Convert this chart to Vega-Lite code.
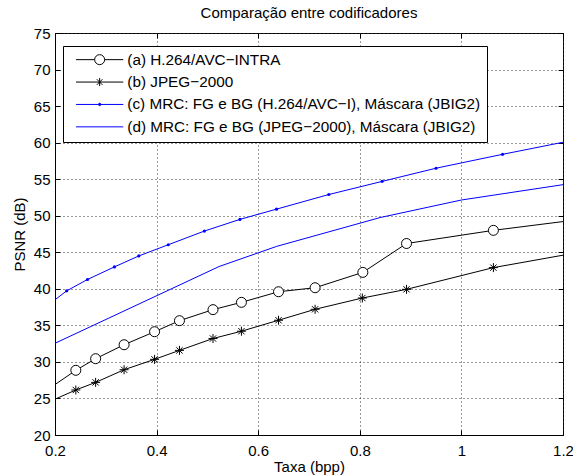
{
  "$schema": "https://vega.github.io/schema/vega-lite/v6.json",
  "width": 508,
  "height": 402,
  "autosize": "none",
  "padding": {"left": 55, "top": 33, "right": 10, "bottom": 40},
  "background": "white",
  "title": {"text": "Comparação entre codificadores", "font": "Liberation Sans", "fontSize": 15, "fontWeight": "normal", "color": "black", "offset": 5},
  "config": {
    "view": {"stroke": "black", "strokeWidth": 1},
    "axis": {"labelFont": "Liberation Sans", "titleFont": "Liberation Sans", "labelColor": "black", "titleColor": "black", "titleFontWeight": "normal", "domainColor": "black", "tickColor": "black", "labelOverlap": false, "labelFlush": false}
  },
  "data": {"values": [
    {"serie": "(a) H.264/AVC−INTRA", "x": 0.2, "y": 26.9},
    {"serie": "(a) H.264/AVC−INTRA", "x": 0.241, "y": 28.85},
    {"serie": "(a) H.264/AVC−INTRA", "x": 0.28, "y": 30.44},
    {"serie": "(a) H.264/AVC−INTRA", "x": 0.336, "y": 32.35},
    {"serie": "(a) H.264/AVC−INTRA", "x": 0.396, "y": 34.13},
    {"serie": "(a) H.264/AVC−INTRA", "x": 0.445, "y": 35.64},
    {"serie": "(a) H.264/AVC−INTRA", "x": 0.511, "y": 37.15},
    {"serie": "(a) H.264/AVC−INTRA", "x": 0.567, "y": 38.15},
    {"serie": "(a) H.264/AVC−INTRA", "x": 0.64, "y": 39.6},
    {"serie": "(a) H.264/AVC−INTRA", "x": 0.712, "y": 40.15},
    {"serie": "(a) H.264/AVC−INTRA", "x": 0.806, "y": 42.25},
    {"serie": "(a) H.264/AVC−INTRA", "x": 0.892, "y": 46.2},
    {"serie": "(a) H.264/AVC−INTRA", "x": 1.063, "y": 48.0},
    {"serie": "(a) H.264/AVC−INTRA", "x": 1.2, "y": 49.2},
    {"serie": "(b) JPEG−2000", "x": 0.2, "y": 24.9},
    {"serie": "(b) JPEG−2000", "x": 0.241, "y": 26.16},
    {"serie": "(b) JPEG−2000", "x": 0.28, "y": 27.2},
    {"serie": "(b) JPEG−2000", "x": 0.336, "y": 28.93},
    {"serie": "(b) JPEG−2000", "x": 0.396, "y": 30.35},
    {"serie": "(b) JPEG−2000", "x": 0.445, "y": 31.58},
    {"serie": "(b) JPEG−2000", "x": 0.511, "y": 33.2},
    {"serie": "(b) JPEG−2000", "x": 0.567, "y": 34.2},
    {"serie": "(b) JPEG−2000", "x": 0.64, "y": 35.7},
    {"serie": "(b) JPEG−2000", "x": 0.712, "y": 37.2},
    {"serie": "(b) JPEG−2000", "x": 0.805, "y": 38.74},
    {"serie": "(b) JPEG−2000", "x": 0.892, "y": 39.93},
    {"serie": "(b) JPEG−2000", "x": 1.063, "y": 42.9},
    {"serie": "(b) JPEG−2000", "x": 1.2, "y": 44.6},
    {"serie": "(c) MRC: FG e BG (H.264/AVC−I), Máscara (JBIG2)", "x": 0.2, "y": 38.5},
    {"serie": "(c) MRC: FG e BG (H.264/AVC−I), Máscara (JBIG2)", "x": 0.223, "y": 39.72},
    {"serie": "(c) MRC: FG e BG (H.264/AVC−I), Máscara (JBIG2)", "x": 0.264, "y": 41.28},
    {"serie": "(c) MRC: FG e BG (H.264/AVC−I), Máscara (JBIG2)", "x": 0.317, "y": 43.0},
    {"serie": "(c) MRC: FG e BG (H.264/AVC−I), Máscara (JBIG2)", "x": 0.365, "y": 44.5},
    {"serie": "(c) MRC: FG e BG (H.264/AVC−I), Máscara (JBIG2)", "x": 0.423, "y": 46.03},
    {"serie": "(c) MRC: FG e BG (H.264/AVC−I), Máscara (JBIG2)", "x": 0.494, "y": 47.9},
    {"serie": "(c) MRC: FG e BG (H.264/AVC−I), Máscara (JBIG2)", "x": 0.564, "y": 49.5},
    {"serie": "(c) MRC: FG e BG (H.264/AVC−I), Máscara (JBIG2)", "x": 0.636, "y": 50.9},
    {"serie": "(c) MRC: FG e BG (H.264/AVC−I), Máscara (JBIG2)", "x": 0.739, "y": 52.9},
    {"serie": "(c) MRC: FG e BG (H.264/AVC−I), Máscara (JBIG2)", "x": 0.844, "y": 54.7},
    {"serie": "(c) MRC: FG e BG (H.264/AVC−I), Máscara (JBIG2)", "x": 0.95, "y": 56.5},
    {"serie": "(c) MRC: FG e BG (H.264/AVC−I), Máscara (JBIG2)", "x": 1.081, "y": 58.4},
    {"serie": "(c) MRC: FG e BG (H.264/AVC−I), Máscara (JBIG2)", "x": 1.2, "y": 60.05},
    {"serie": "(d) MRC: FG e BG (JPEG−2000), Máscara (JBIG2)", "x": 0.2, "y": 32.55},
    {"serie": "(d) MRC: FG e BG (JPEG−2000), Máscara (JBIG2)", "x": 0.523, "y": 43.05},
    {"serie": "(d) MRC: FG e BG (JPEG−2000), Máscara (JBIG2)", "x": 0.636, "y": 45.8},
    {"serie": "(d) MRC: FG e BG (JPEG−2000), Máscara (JBIG2)", "x": 0.84, "y": 49.75},
    {"serie": "(d) MRC: FG e BG (JPEG−2000), Máscara (JBIG2)", "x": 1.0, "y": 52.15},
    {"serie": "(d) MRC: FG e BG (JPEG−2000), Máscara (JBIG2)", "x": 1.2, "y": 54.25}
  ]},
  "resolve": {"axis": {"x": "independent", "y": "independent"}},
  "layer": [
    {
      "mark": {"type": "line", "strokeWidth": 1},
      "encoding": {
        "x": {"field": "x", "type": "quantitative", "scale": {"domain": [0.2, 1.2], "nice": false, "zero": false},
          "axis": {"orient": "bottom", "values": [0.2, 0.4, 0.6, 0.8, 1, 1.2], "format": "~g", "grid": true, "gridDash": [1, 3], "gridColor": "#333", "tickSize": -5, "labelPadding": 13, "labelFontSize": 15, "title": "Taxa (bpp)", "titleFontSize": 15, "titlePadding": 1}},
        "y": {"field": "y", "type": "quantitative", "scale": {"domain": [20, 75], "nice": false, "zero": false},
          "axis": {"orient": "left", "values": [20, 25, 30, 35, 40, 45, 50, 55, 60, 65, 70, 75], "format": "d", "grid": true, "gridDash": [1, 3], "gridColor": "#333", "tickSize": -5, "labelPadding": 10, "labelFontSize": 15, "title": "PSNR (dB)", "titleFontSize": 15, "titlePadding": 6}},
        "color": {"field": "serie", "type": "nominal",
          "scale": {"domain": ["(a) H.264/AVC−INTRA", "(b) JPEG−2000", "(c) MRC: FG e BG (H.264/AVC−I), Máscara (JBIG2)", "(d) MRC: FG e BG (JPEG−2000), Máscara (JBIG2)"], "range": ["black", "black", "#0000ff", "#0000ff"]},
          "legend": {
            "title": null, "orient": "none", "legendX": 8, "legendY": 13,
            "strokeColor": "black", "fillColor": "white", "padding": 6,
            "labelFont": "Liberation Sans", "labelFontSize": 15.3, "labelColor": "black", "labelLimit": 0,
            "symbolSize": 64, "symbolStrokeWidth": 1, "symbolOffset": 23, "labelOffset": 20, "rowPadding": 6.4,
            "encode": {"symbols": {"update": {
              "shape": {"signal": "indexof(datum.value,'(a)')===0 ? 'M-5.9,0H-1.25M1.25,0H5.9M-1.25,0A1.25,1.25 0 1,1 1.25,0A1.25,1.25 0 1,1 -1.25,0' : indexof(datum.value,'(b)')===0 ? 'M-5.9,0H5.9M0,-1V1M-0.7,-0.7L0.7,0.7M-0.7,0.7L0.7,-0.7' : indexof(datum.value,'(c)')===0 ? 'M-5.9,0H5.9M-0.3,0A0.3,0.3 0 1,1 0.3,0A0.3,0.3 0 1,1 -0.3,0' : 'M-5.9,0H5.9'"},
              "fill": {"signal": "indexof(datum.value,'(c)')===0 ? '#0000ff' : 'transparent'"},
              "strokeWidth": {"value": 1},
              "opacity": {"value": 1}
            }}}
          }}
      }
    },
    {
      "transform": [{"filter": "indexof(datum.serie,'(a)')===0 && datum.x > 0.2 && datum.x < 1.2"}],
      "mark": {"type": "point", "shape": "circle", "size": 100, "filled": true, "fill": "white", "stroke": "black", "strokeWidth": 1, "opacity": 1},
      "encoding": {
        "x": {"field": "x", "type": "quantitative", "scale": {"domain": [0.2, 1.2], "nice": false, "zero": false},
          "axis": {"orient": "top", "values": [0.2, 0.4, 0.6, 0.8, 1, 1.2], "labels": false, "grid": false, "domain": false, "tickSize": -5, "title": null}},
        "y": {"field": "y", "type": "quantitative", "scale": {"domain": [20, 75], "nice": false, "zero": false},
          "axis": {"orient": "right", "values": [20, 25, 30, 35, 40, 45, 50, 55, 60, 65, 70, 75], "labels": false, "grid": false, "domain": false, "tickSize": -5, "title": null}}
      }
    },
    {
      "transform": [{"filter": "indexof(datum.serie,'(b)')===0 && datum.x > 0.2 && datum.x < 1.2"}],
      "mark": {"type": "point", "shape": "M0,-1V1M-1,0H1M-0.7,-0.7L0.7,0.7M-0.7,0.7L0.7,-0.7", "size": 81, "filled": false, "stroke": "black", "strokeWidth": 1, "opacity": 1},
      "encoding": {
        "x": {"field": "x", "type": "quantitative", "scale": {"domain": [0.2, 1.2], "nice": false, "zero": false}, "axis": null},
        "y": {"field": "y", "type": "quantitative", "scale": {"domain": [20, 75], "nice": false, "zero": false}, "axis": null}
      }
    },
    {
      "transform": [{"filter": "indexof(datum.serie,'(c)')===0 && datum.x > 0.2 && datum.x < 1.2"}],
      "mark": {"type": "point", "shape": "circle", "size": 10, "filled": true, "fill": "#0000ff", "strokeWidth": 0, "opacity": 1},
      "encoding": {
        "x": {"field": "x", "type": "quantitative", "scale": {"domain": [0.2, 1.2], "nice": false, "zero": false}, "axis": null},
        "y": {"field": "y", "type": "quantitative", "scale": {"domain": [20, 75], "nice": false, "zero": false}, "axis": null}
      }
    }
  ]
}
